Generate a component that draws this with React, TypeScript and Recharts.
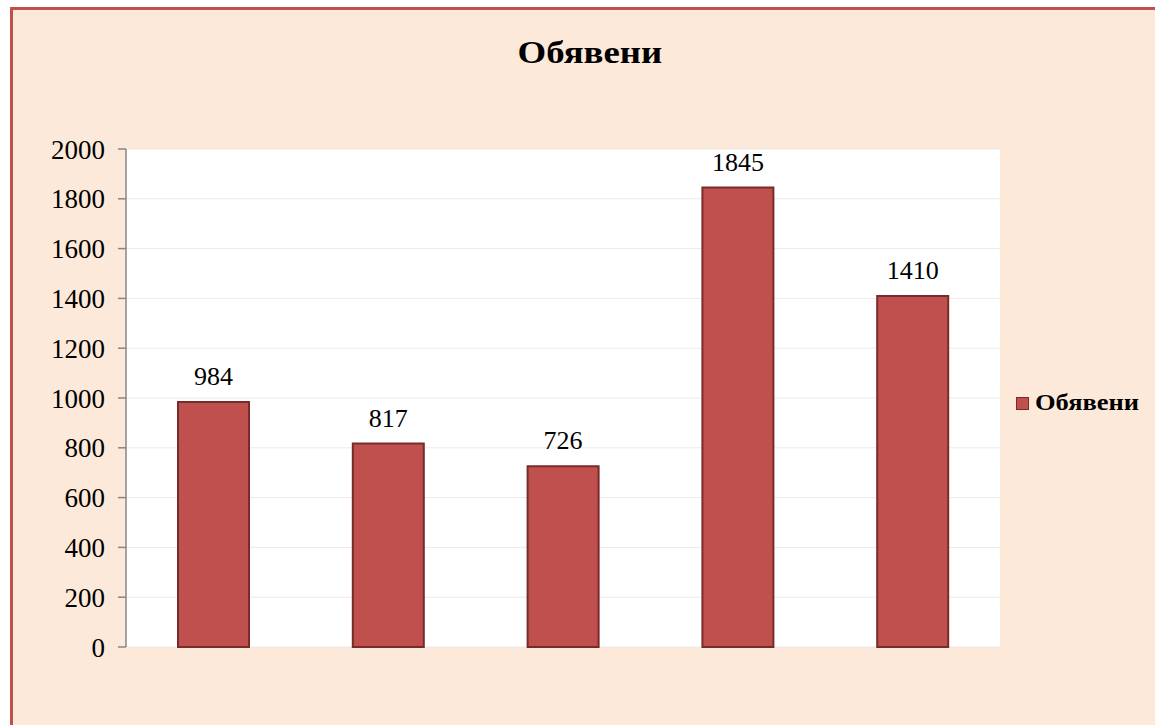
import React from 'react';
import { BarChart, Bar, XAxis, YAxis, CartesianGrid, LabelList } from 'recharts';

const categories = ['1', '2', '3', '4', '5'];
const seriesName = 'Обявени';
const values = [984, 817, 726, 1845, 1410];
const yTicks = [0, 200, 400, 600, 800, 1000, 1200, 1400, 1600, 1800, 2000];

const data = categories.map((c, i) => ({ name: c, value: values[i] }));

const FONT = '"Liberation Serif", "Times New Roman", serif';

export default function App() {
  return (
    <div style={{ position: 'fixed', left: 0, top: 0, width: 1155, height: 725, overflow: 'hidden', background: '#fff' }}>
      <div style={{ position: 'absolute', left: 10, top: 7, width: 1200, height: 800, background: '#FDE9D9', borderLeft: '3px solid #C0504D', borderTop: '3px solid #C0504D', boxSizing: 'border-box' }} />
      <div style={{ position: 'absolute', left: 0, top: 34, width: 1180, textAlign: 'center' }}>
        <span style={{ display: 'inline-block', transform: 'scaleX(1.15)', fontFamily: FONT, fontWeight: 'bold', fontSize: 32, color: '#000' }}>
          {seriesName}
        </span>
      </div>
      <div style={{ position: 'absolute', left: 0, top: 0 }}>
        <BarChart width={1155} height={725} data={data} margin={{ top: 149, right: 155, bottom: 78, left: 46 }} barCategoryGap={52}>
          <CartesianGrid vertical={false} stroke="#EDEAE3" fill="#FFFFFF" />
          <XAxis dataKey="name" hide />
          <YAxis
            width={80}
            domain={[0, 2000]}
            ticks={yTicks}
            interval={0}
            axisLine={{ stroke: '#868686', strokeWidth: 1.5 }}
            tickLine={{ stroke: '#868686', strokeWidth: 1.5 }}
            tickSize={8}
            tickMargin={13}
            tick={{ fill: '#000', fontFamily: FONT, fontSize: 27 }}
          />
          <Bar dataKey="value" name={seriesName} fill="#C0504D" stroke="#772C2A" strokeWidth={2} isAnimationActive={false}>
            <LabelList dataKey="value" position="top" offset={17} fill="#000" fontFamily={FONT} fontSize={26} />
          </Bar>
        </BarChart>
      </div>
      <div style={{ position: 'absolute', left: 1016, top: 390, display: 'flex', alignItems: 'center', fontFamily: FONT, fontWeight: 'bold', fontSize: 23, color: '#000' }}>
        <span style={{ display: 'inline-block', width: 11, height: 11, background: '#C0504D', border: '1.5px solid #772C2A', marginRight: 6 }} />
        <span style={{ display: 'inline-block', transform: 'scaleX(1.15)', transformOrigin: 'left center' }}>{seriesName}</span>
      </div>
    </div>
  );
}
